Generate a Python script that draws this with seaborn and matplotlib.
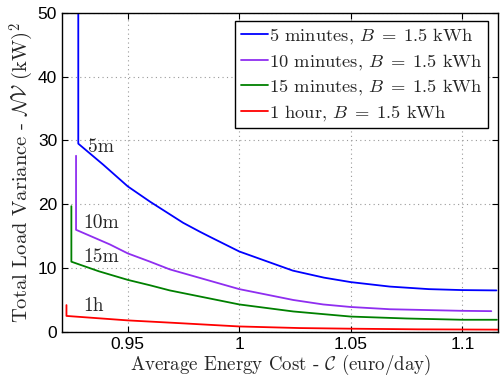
import numpy as np
import pandas as pd
import matplotlib
matplotlib.use('Agg')
import matplotlib.pyplot as plt
import seaborn as sns

# стиль
sns.set_style('ticks')
plt.rcParams['font.family'] = ['Liberation Sans', 'DejaVu Sans']
plt.rcParams['mathtext.fontset'] = 'cm'

# данные
blue_x = [0.9278, 0.9278, 0.939, 0.950, 0.960, 0.9748, 0.9823, 0.9868, 1.000, 1.024, 1.038, 1.050, 1.0675, 1.085, 1.100, 1.1153]
blue_y = [52.0, 29.5, 26.2, 22.8, 20.4, 17.1, 15.7, 14.9, 12.6, 9.6, 8.5, 7.8, 7.1, 6.7, 6.55, 6.5]

purple_x = [0.9268, 0.9268, 0.942, 0.950, 0.960, 0.9688, 1.000, 1.0242, 1.0376, 1.050, 1.0675, 1.100, 1.113]
purple_y = [27.6, 16.0, 13.7, 12.3, 11.0, 9.8, 6.7, 5.0, 4.3, 3.9, 3.55, 3.3, 3.25]

green_x = [0.9247, 0.9247, 0.937, 0.950, 0.960, 0.9688, 1.000, 1.0242, 1.050, 1.075, 1.100, 1.1155]
green_y = [19.7, 11.0, 9.5, 8.15, 7.3, 6.5, 4.3, 3.2, 2.4, 2.1, 1.9, 1.9]

red_x = [0.9225, 0.9225, 0.950, 0.9715, 1.000, 1.027, 1.050, 1.080, 1.116]
red_y = [4.2, 2.5, 1.8, 1.4, 0.85, 0.6, 0.5, 0.4, 0.35]

series_names = [r'5 minutes, $B\;=\;1.5$ kWh', r'10 minutes, $B\;=\;1.5$ kWh',
                r'15 minutes, $B\;=\;1.5$ kWh', r'1 hour, $B\;=\;1.5$ kWh']
series_colors = ['#0000ff', '#8f2ef0', '#008000', '#ff0000']
curve_labels = ['5m', '10m', '15m', '1h']
label_pos = [(0.932, 28.9), (0.930, 17.1), (0.930, 11.7), (0.930, 4.0)]

x_ticks = [0.95, 1.0, 1.05, 1.1]
x_tick_labels = ['0.95', '1', '1.05', '1.1']
y_ticks = [0, 10, 20, 30, 40, 50]

fig = plt.figure(figsize=(5, 3.78), dpi=100)
ax = fig.add_axes([0.124, 0.122, 0.872, 0.844])

all_x = [blue_x, purple_x, green_x, red_x]
all_y = [blue_y, purple_y, green_y, red_y]
for xs, ys, name, col in zip(all_x, all_y, series_names, series_colors):
    df = pd.DataFrame({'x': xs, 'y': ys})
    sns.lineplot(data=df, x='x', y='y', sort=False, estimator=None,
                 color=col, linewidth=1.3, label=name, ax=ax)

for txt, (tx, ty) in zip(curve_labels, label_pos):
    ax.text(tx, ty, txt, fontsize=14, family='cmr10', va='center', ha='left')

ax.set_xlim(0.9205, 1.116)
ax.set_ylim(0, 50)
ax.set_xticks(x_ticks)
ax.set_xticklabels(x_tick_labels)
ax.set_yticks(y_ticks)
ax.tick_params(direction='in', length=4, width=0.8, top=True, right=True,
               labelsize=12.5, colors='black')
ax.grid(True, linestyle=(0, (1, 3)), color='#999999', linewidth=0.8)
for s in ax.spines.values():
    s.set_color('black')
    s.set_linewidth(1.0)

ax.set_xlabel(r'Average Energy Cost - $\mathcal{C}$ (euro/day)', family='cmr10',
              fontsize=13.6, labelpad=1)
ax.set_ylabel(r'Total Load Variance - $\mathcal{N}\mathcal{V}$ (kW)$^2$', family='cmr10',
              fontsize=14.8, labelpad=1)

leg = ax.legend(loc='upper right', bbox_to_anchor=(0.977, 0.975), fancybox=False,
                framealpha=1, edgecolor='black', borderpad=0.3, labelspacing=0.3,
                handlelength=1.45, handletextpad=0.05, borderaxespad=0,
                prop={'family': 'cmr10', 'size': 13.3})
leg.get_frame().set_linewidth(1.0)

fig.savefig('out.png', dpi=100)
